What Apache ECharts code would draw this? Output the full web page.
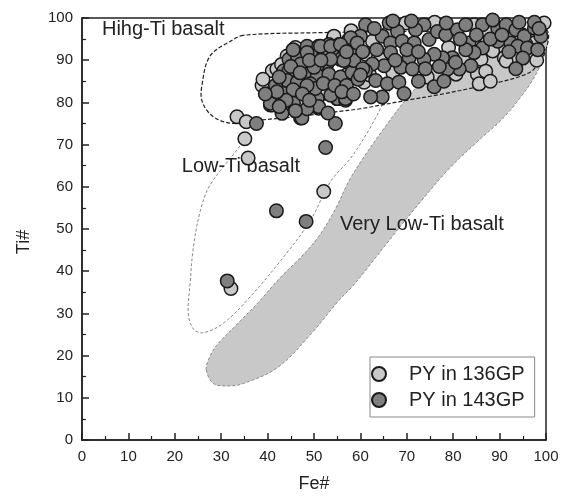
<!DOCTYPE html>
<html>
<head>
<meta charset="utf-8">
<script src="https://cdn.jsdelivr.net/npm/echarts@6/dist/echarts.min.js"></script>
<style>
  html, body { margin: 0; padding: 0; background: #fff; }
  #chart { width: 564px; height: 498px; }
</style>
</head>
<body>
<div id="chart"></div>
<script type="text/javascript">
// PY in 136GP (light grey)
var py136 = [
  [33.4,76.6],[35.4,75.4],[35.1,71.4],[35.8,66.8],[52.1,58.9],[32.1,35.9],
  [38.8,84],[41,87.5],[40.6,79.4],[42,87.9],[44.2,91],[47.8,80.2],[53.6,82.1],
  [54.2,95.3],[69.8,98.8],[54.3,95.7],[62.6,94.5],[84.5,98.4],[87.4,96.8],
  [99.6,98.8],[91,90.6],[97.5,94.1],[88.5,92.2],[86,90.2],[85.2,86.7],[85.6,84.4],
  [74.4,86],[64.4,90.2],[61.1,91.4],[60.8,84.8],[55,80.9],[52.8,82.1],[41,79.4],
  [91.4,89.8],[95.7,93.7],[80.6,86.7],[87,87.4],[88,85],[43,89],[46,93],[58,97],
  [66,96.5],[76,99],[79,93],[93,96],[98,90],[39,85.5],[40,82],[43.5,84],[57,86.5],
  [62,86.5],[67,87]
];
// PY in 143GP (dark grey)
var py143 = [
  [37.6,75],[54.6,75],[52.5,69.3],[41.9,54.3],[48.3,51.8],[31.3,37.7],
  [47.1,76.3],[50.7,79],[43.5,87.5],[44.6,90.2],[46.4,91],[48.5,93.3],[51,93.3],
  [53.2,93.7],[55.4,93.7],[57.5,94.9],[49.6,91],[52.1,91.4],[54.3,91],[52.8,89.1],
  [55.7,90.2],[58.5,90.2],[50.7,88.7],[47.1,89.1],[44.6,87.5],[48.2,86.7],[50.7,86.4],
  [53.2,86.7],[55.7,86],[58.2,87.1],[44.2,85.2],[46.4,84.8],[49.2,84.4],[41.7,84],
  [43.5,82.1],[46.4,82.1],[41.3,81.7],[40.6,79.8],[43.5,79.4],[45.6,79.8],[43.1,77.4],
  [50.7,80.9],[51,78.6],[55,80.9],[56.8,80.5],[50.3,83.3],[59,93],
  [61.1,98.4],[66.2,98.8],[73.7,98.4],[68,96.8],[71.9,97.2],[64.7,95.7],[60,95.7],
  [57.9,95.3],[51.4,93.3],[48.5,91.8],[53.6,93.3],[55.7,93.7],[59.3,94.1],[66.5,94.1],
  [69,94.5],[71.6,94.1],[74.8,94.9],[76.6,96.8],[78.4,96],[80.9,97.2],[82.7,98.4],
  [86.3,98.4],[89.6,97.6],[91.4,98.4],[93.5,97.2],[95.3,95.7],[97.5,97.6],[98.9,95.7],
  [97.5,99],[94.2,99],[92.4,94.1],[93.9,93.3],[96,92.9],[98.2,92.5],[89.6,94.5],
  [86.3,92.9],[83.4,94.1],[84.5,91.8],[82.7,92.5],[83.8,88.7],[81.3,87.9],[78.8,87.9],
  [79.8,90.6],[77.7,90.6],[75.9,91.4],[75.9,83.7],[73.7,90.2],[70.5,90.6],[68.7,88.3],
  [71.2,87.9],[66.5,91.8],[65.1,88.7],[62.6,89.1],[58.6,89.9],[61.1,87.5],[63.3,85.2],
  [65.8,84.4],[68.3,84.8],[69.4,82.1],[64.7,81.3],[62.2,81.3],[56.8,80.9],[53.6,81.7],
  [51,79],[47.4,76.3],[48.5,84],[56.4,89.9],[53.6,90.2],[50,88.3],
  [42.5,86],[45,88.5],[47,87],[49,90],[51.5,90],[45.5,83],[47.5,82],[44,80.5],[42,82.5],
  [48.5,78.5],[46,78],[52,84.5],[54.5,84],[57,84],[59.5,85.5],[56,82.5],[58.5,82],
  [60.5,88],[63.5,92.5],[57,92],[60.5,92],[67.5,90],[70,92.5],[72.5,92],[74,88],
  [77,88.5],[72.5,85],[78,85],[80.5,89.5],[81.5,95],[85,96],[88,95],[90.5,96],[92,92],
  [95,90.5],[93.5,88],[98.5,97.5],[63,97.5],[67,99.3],[71,99.3],[88.5,99.5],[78.5,98.8],
  [60,86.5],[45.5,92.5],[42.5,79],[39.5,82],[49,80.5],[53,77.5]
];
// field outlines
var highTi = [
  [34.8,95.9],[32,94.5],[27.6,91],[25.9,84.4],[25.9,80.2],[28.3,76.6],[32.6,75],
  [38.4,75.8],[47,76.7],[55,77.8],[60,78.5],[70,80.5],[77.3,81.9],[84,83.4],[90.3,84.9],
  [95,86.4],[97.4,87.9],[100,92.5],[100,97.2],[90,97],[70,96.8],[50,96.5]
];
var lowTi = [
  [70,90],[66,82],[62,73.8],[57.9,66.8],[53.6,61.3],[49.2,52],[43.4,43.3],[36.3,34],
  [30.5,27.7],[26.1,25.4],[24,26.3],[22.9,30.1],[23.3,37.1],[24,45.6],[25.5,54.3],
  [27.6,60.4],[34.1,69.8],[36,73.4]
];
var veryLowTi = [
  [26.8,16.6],[27.4,19.4],[29,22.4],[33.2,27.2],[38,32.6],[43,38.8],[47,43.1],[51,48.2],
  [54.6,54.7],[57.5,61.3],[60.6,66.8],[64.6,73.1],[70.4,81.5],[75.4,87.1],[80,91],[87,94],
  [95,96],[100,97],[100,92.5],[97.6,86.2],[94.3,80.9],[90.6,76.1],[85.3,70.8],[79.2,64.4],
  [72.4,55.7],[66.4,47.6],[61.4,40.6],[58.2,36.3],[55.3,33],[49.4,25.2],[42.2,17.2],
  [34.8,13.4],[31.3,12.8],[28.3,13.4]
];
var fieldLabels = [
  ['Hihg-Ti basalt', 4.3, 97.2],
  ['Low-Ti basalt', 21.5, 64.9],
  ['Very Low-Ti basalt', 55.6, 51]
];
var xTicks = [0, 100, 10];
var yTicks = [0, 100, 10];

function shapeSeries(pts, closed, style) {
  return {
    type: 'custom',
    silent: true,
    z: 1,
    data: [0],
    renderItem: function (params, api) {
      var p = pts.map(function (d) { return api.coord(d); });
      return {
        type: closed ? 'polygon' : 'polyline',
        shape: { points: p, smooth: 0.35 },
        style: style
      };
    }
  };
}

var myChart = echarts.init(document.getElementById('chart'), null, { renderer: 'canvas' });
var font = 'Liberation Sans, Arial, sans-serif';
var option = {
  animation: false,
  backgroundColor: '#fff',
  grid: { left: 82, right: 18, top: 18, bottom: 53, show: true, borderColor: '#222', borderWidth: 1.5 },
  xAxis: {
    type: 'value', min: xTicks[0], max: xTicks[1], interval: xTicks[2],
    name: 'Fe#', nameLocation: 'middle', nameGap: 35,
    nameTextStyle: { fontSize: 18, color: '#222', fontFamily: font },
    axisLine: { lineStyle: { color: '#222', width: 1.5 } },
    axisTick: { inside: true, length: 7, lineStyle: { color: '#222', width: 1.5 } },
    minorTick: { show: true, splitNumber: 2, length: 4, lineStyle: { color: '#222', width: 1.2 } },
    axisLabel: { fontSize: 15, color: '#222', margin: 9, fontFamily: font },
    splitLine: { show: false }
  },
  yAxis: {
    type: 'value', min: yTicks[0], max: yTicks[1], interval: yTicks[2],
    name: 'Ti#', nameLocation: 'middle', nameGap: 49,
    nameTextStyle: { fontSize: 18, color: '#222', fontFamily: font, padding: [0, 26, 0, 0] },
    axisLine: { lineStyle: { color: '#222', width: 1.5 } },
    axisTick: { inside: true, length: 7, lineStyle: { color: '#222', width: 1.5 } },
    minorTick: { show: true, splitNumber: 2, length: 4, lineStyle: { color: '#222', width: 1.2 } },
    axisLabel: { fontSize: 15, color: '#222', margin: 9, fontFamily: font },
    splitLine: { show: false }
  },
  legend: {
    left: 370, top: 357, orient: 'vertical',
    backgroundColor: '#fff', borderColor: '#888', borderWidth: 1,
    padding: [7, 10, 7, 1], itemGap: 6, itemWidth: 14, itemHeight: 14,
    icon: 'circle',
    textStyle: { fontSize: 20, color: '#222', fontFamily: font, padding: [0, 0, 0, 18] },
    data: ['PY in 136GP', 'PY in 143GP']
  },
  series: [
    shapeSeries(veryLowTi, true, { fill: '#c8c8c8', stroke: '#8a8a8a', lineWidth: 1, lineDash: [3, 2] }),
    shapeSeries(lowTi, false, { fill: null, stroke: '#888', lineWidth: 1, lineDash: [3, 2] }),
    shapeSeries(highTi, true, { fill: null, stroke: '#222', lineWidth: 1.2, lineDash: [4, 2] }),
    {
      type: 'custom', silent: true, z: 2, data: fieldLabels,
      renderItem: function (params, api) {
        var p = api.coord([api.value(1), api.value(2)]);
        return {
          type: 'text', x: p[0], y: p[1],
          style: { text: fieldLabels[params.dataIndex][0], fill: '#222', font: '20px ' + font, verticalAlign: 'middle', align: 'left' }
        };
      },
      encode: { x: 1, y: 2 }
    },
    {
      name: 'PY in 136GP', type: 'scatter', z: 3, symbolSize: 13.5, data: py136,
      itemStyle: { color: '#c8c8c8', borderColor: '#1a1a1a', borderWidth: 1.5, opacity: 1 }
    },
    {
      name: 'PY in 143GP', type: 'scatter', z: 4, symbolSize: 13.5, data: py143,
      itemStyle: { color: '#7f7f7f', borderColor: '#1a1a1a', borderWidth: 1.5, opacity: 1 }
    }
  ]
};
myChart.setOption(option);
</script>
</body>
</html>
